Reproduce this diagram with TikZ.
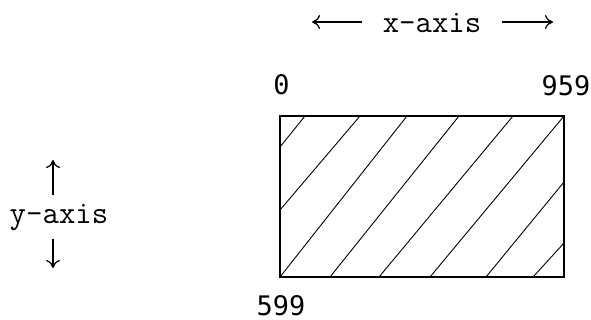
\documentclass[tikz,border=0pt]{standalone}
\usepackage{fontspec}
\newfontfamily\digitfont{DejaVu Sans Mono}
\usepackage{tikz}
\usetikzlibrary{arrows.meta}

\begin{document}
\begin{tikzpicture}[>={Computer Modern Rightarrow[length=8bp,width=14bp]},
  axislab/.style={font=\fontsize{32}{34}\selectfont\ttfamily, inner sep=0pt, anchor=base},
  numlab/.style={font=\fontsize{27}{29}\selectfont\digitfont, inner sep=0pt, anchor=base},
  hatch/.style={line width=0.9bp}]

\useasboundingbox (0bp,0bp) rectangle (591bp,-320bp);

\coordinate (TL) at (280bp,-116bp);
\coordinate (BR) at (564bp,-277bp);
\coordinate (xl) at (312bp,-22bp);
\coordinate (xr) at (553bp,-22bp);
\coordinate (yu) at (53bp,-160bp);
\coordinate (yd) at (53bp,-268bp);

\node (xlab) at (432bp,-32bp)[axislab,inner xsep=21bp] {x-axis};
\node (ylab) at (59bp,-223bp)[axislab,inner ysep=9bp] {y-axis};
\node (zero) at (281.5bp,-94bp)[numlab] {0};
\node (xmax) at (566bp,-95bp)[numlab] {959};
\node (ymax) at (281bp,-315bp)[numlab] {599};

\draw [->,line width=1.2bp] (xlab.west |- xl) -- (xl);
\draw [->,line width=1.2bp] (xlab.east |- xr) -- (xr);
\draw [->,line width=1.2bp] (ylab.north -| yu) -- (yu);
\draw [->,line width=1.2bp] (ylab.south -| yd) -- (yd);

\draw [hatch] (305bp,-116bp) -- (280bp,-147bp);
\draw [hatch] (360bp,-116bp) -- (280bp,-210bp);
\draw [hatch] (407bp,-116bp) -- (280bp,-277bp);
\draw [hatch] (459bp,-116bp) -- (330bp,-277bp);
\draw [hatch] (513bp,-116bp) -- (379bp,-277bp);
\draw [hatch] (564bp,-116bp) -- (430bp,-277bp);
\draw [hatch] (564bp,-182bp) -- (486bp,-277bp);
\draw [hatch] (564bp,-243bp) -- (533bp,-277bp);
\draw [line width=1.5bp] (TL) rectangle (BR);
\end{tikzpicture}
\end{document}
